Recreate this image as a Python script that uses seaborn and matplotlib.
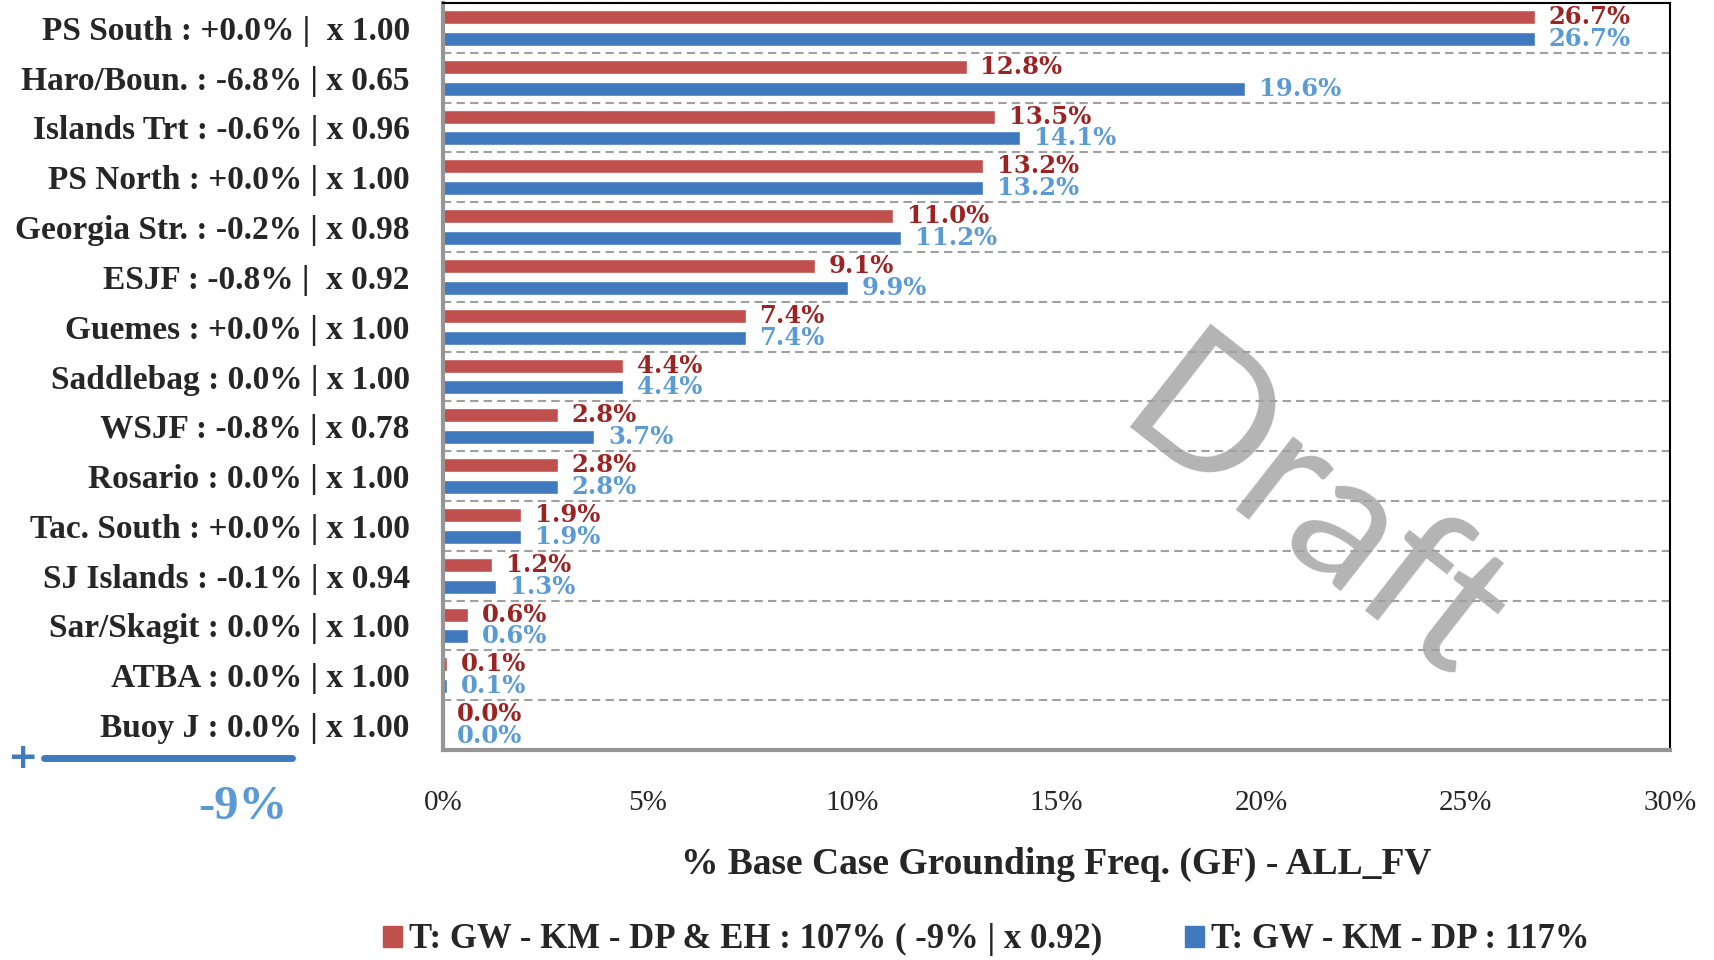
import numpy as np
import pandas as pd
import seaborn as sns
import matplotlib as mpl
mpl.use("Agg")
import matplotlib.pyplot as plt
from matplotlib.lines import Line2D
from matplotlib.patches import Patch

# categories (top to bottom) and the two series, in % of base case
regions = [
    "PS South : +0.0% |  x 1.00",
    "Haro/Boun. : -6.8% | x 0.65",
    "Islands Trt : -0.6% | x 0.96",
    "PS North : +0.0% | x 1.00",
    "Georgia Str. : -0.2% | x 0.98",
    "ESJF : -0.8% |  x 0.92",
    "Guemes : +0.0% | x 1.00",
    "Saddlebag : 0.0% | x 1.00",
    "WSJF : -0.8% | x 0.78",
    "Rosario : 0.0% | x 1.00",
    "Tac. South : +0.0% | x 1.00",
    "SJ Islands : -0.1% | x 0.94",
    "Sar/Skagit : 0.0% | x 1.00",
    "ATBA : 0.0% | x 1.00",
    "Buoy J : 0.0% | x 1.00",
]
red_vals = [26.7, 12.8, 13.5, 13.2, 11.0, 9.1, 7.4, 4.4, 2.8, 2.8, 1.9, 1.2, 0.6, 0.1, 0.0]
blue_vals = [26.7, 19.6, 14.1, 13.2, 11.2, 9.9, 7.4, 4.4, 3.7, 2.8, 1.9, 1.3, 0.6, 0.1, 0.0]
series = ["T: GW - KM - DP & EH : 107% ( -9% | x 0.92)", "T: GW - KM - DP : 117%"]
xticks = [0, 5, 10, 15, 20, 25, 30]

df = pd.DataFrame({
    "region": regions * 2,
    "freq": red_vals + blue_vals,
    "case": [series[0]] * len(regions) + [series[1]] * len(regions),
})

bar_cols = ["#c0504d", "#4179be"]
txt_cols = ["#9b2423", "#5b9bd5"]

sns.set_style("white")
plt.rcParams["font.family"] = ["Liberation Serif", "DejaVu Serif"]

fig = plt.figure(figsize=(17.15, 9.6), dpi=100)
ax = fig.add_axes([443 / 1715, 210 / 960, 1227 / 1715, 747 / 960])

sns.barplot(data=df, y="region", x="freq", hue="case", palette=bar_cols,
            width=0.88, gap=0.36, saturation=1, orient="h", ax=ax)
ax.get_legend().remove()

# data labels
for cont, vals, col in zip(ax.containers, [red_vals, blue_vals], txt_cols):
    ax.bar_label(cont, labels=[f"{v:.1f}%" for v in vals], padding=10,
                 color=col, fontsize=17.5, fontweight="bold", family="DejaVu Serif")

ax.set_xlim(0, 30)
ax.set_ylim(len(regions) - 0.5, -0.5)
ax.set_xticks(xticks)
ax.set_xticklabels([f"{t}%" for t in xticks], fontsize=21)
ax.set_yticks(range(len(regions)))
ax.set_yticklabels(regions, fontsize=24, fontweight="bold")
ax.set_yticks(np.arange(-0.5, len(regions), 1), minor=True)
ax.tick_params(axis="y", which="major", length=0, pad=24)
ax.tick_params(axis="y", which="minor", length=9, width=3, color="#969696", direction="out")
ax.tick_params(axis="x", length=9, width=3, color="#969696", direction="out", pad=20)
ax.grid(axis="y", which="minor", linestyle=(0, (4, 2.5)), color="#a0a0a0", lw=1.5)
ax.grid(axis="x", visible=False)

for s in ["top", "right"]:
    ax.spines[s].set_color("black")
    ax.spines[s].set_linewidth(1.5)
for s in ["left", "bottom"]:
    ax.spines[s].set_color("#969696")
    ax.spines[s].set_linewidth(3)

ax.set_ylabel("")
ax.set_xlabel("% Base Case Grounding Freq. (GF) - ALL_FV", fontsize=27, fontweight="bold")
ax.xaxis.set_label_coords(0.5, -0.13)

handles = [Patch(color=c) for c in bar_cols]
fig.legend(handles, series, loc="center", bbox_to_anchor=(0.575, 0.021), ncol=2,
           frameon=False, handlelength=0.55, handleheight=0.55, handletextpad=0.2,
           columnspacing=2.4, prop={"size": 25, "weight": "bold"})

# overall change marker at bottom left
fig.text(22 / 1715, 1 - 758 / 960, "+", color="#3f7bbf", fontsize=26, fontweight="bold",
         ha="center", va="center", family="DejaVu Sans")
fig.add_artist(Line2D([44 / 1715, 292 / 1715], [1 - 758 / 960] * 2, color="#3f7bbf", lw=5))
fig.text(287 / 1715, 1 - 807 / 960, "-9%", color="#5b9bd5", fontsize=35, fontweight="bold",
         ha="right", va="center")

# watermark, sits under the gridlines
ax.text(1280 / 1715, 1 - 558 / 960, "Draft", transform=fig.transFigure, rotation=-38,
        rotation_mode="anchor", fontsize=132, color="#b4b4b4", ha="center", va="baseline",
        family="Lato", zorder=0.2, clip_on=False)

fig.savefig("out.png", dpi=100)
